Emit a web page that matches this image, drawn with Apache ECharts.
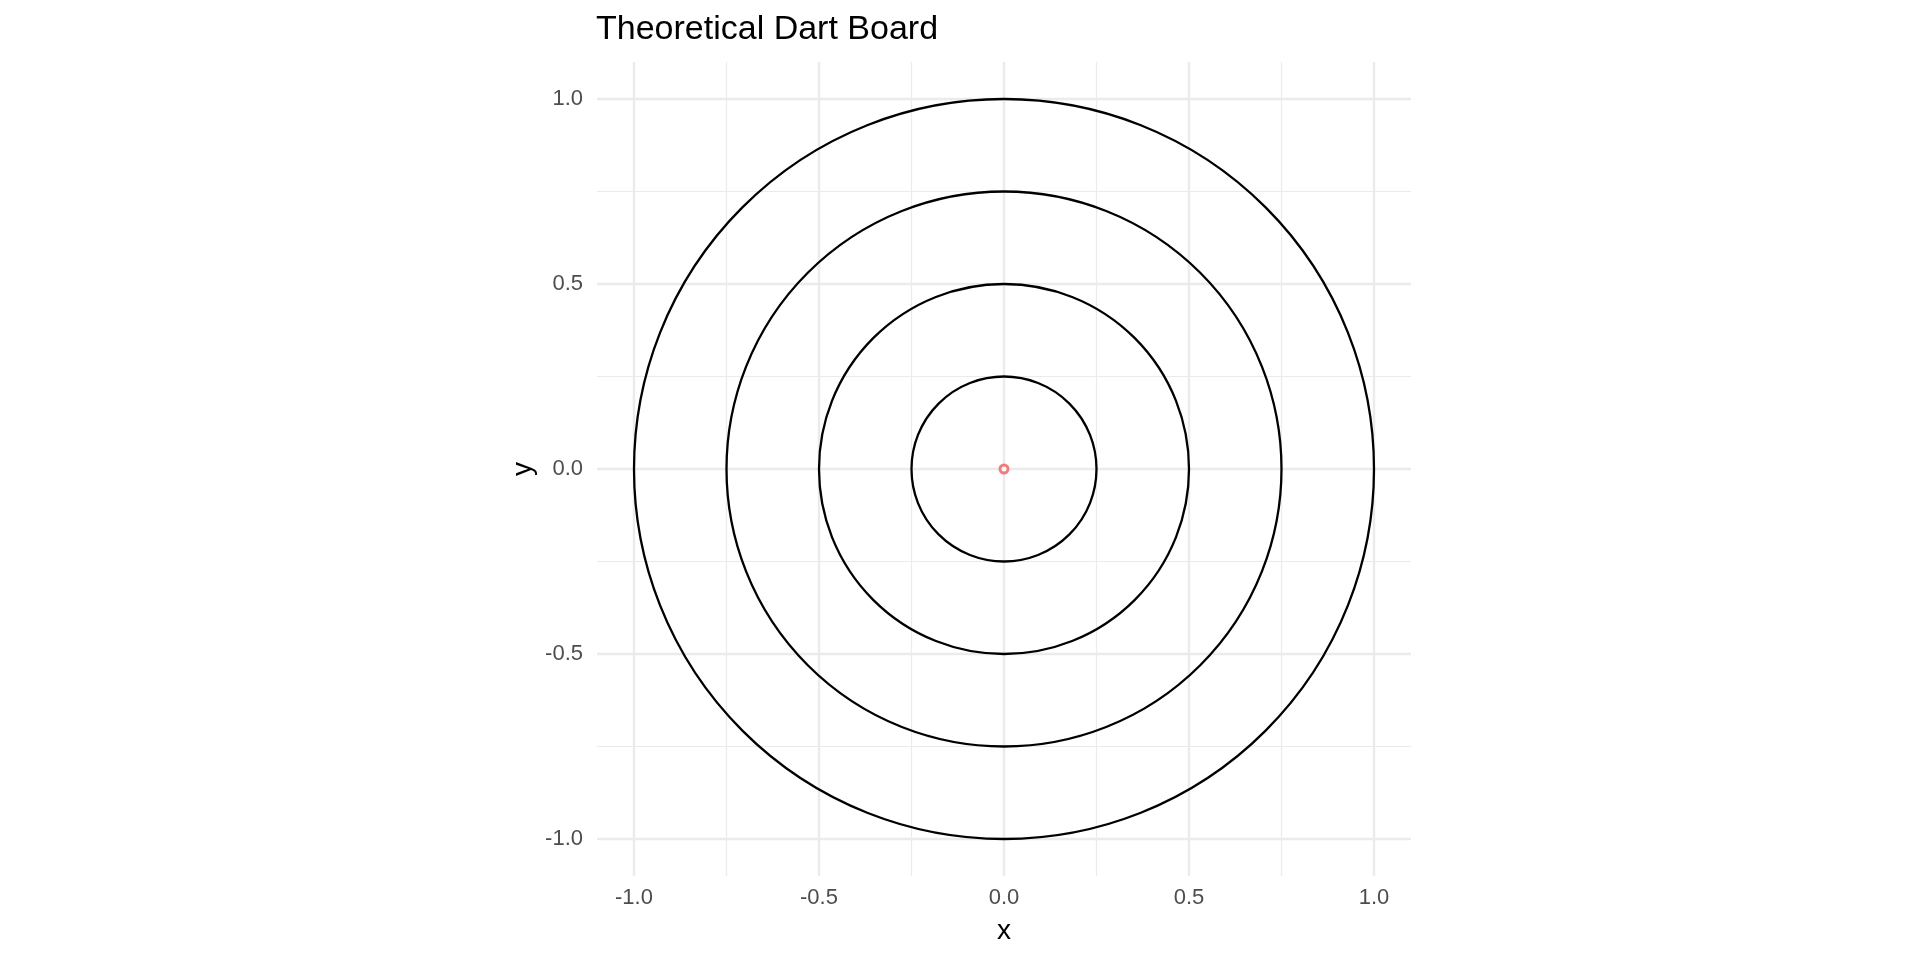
<!DOCTYPE html>
<html>
<head>
<meta charset="utf-8">
<title>Theoretical Dart Board</title>
<script src="https://cdn.jsdelivr.net/npm/echarts@6/dist/echarts.min.js"></script>
<style>
  html, body { margin: 0; padding: 0; background: #fff; }
  #chart { width: 1920px; height: 960px; }
</style>
</head>
<body>
<div id="chart"></div>
<script>
  // board data
  var ringRadii = [0.25, 0.5, 0.75, 1.0];
  var boardCenter = [0, 0];
  var darts = [[0, 0]];

  // axis breaks
  var axisRange = [-1.1, 1.1];
  var majorBreaks = [-1.0, -0.5, 0.0, 0.5, 1.0];
  var minorBreaks = [-0.75, -0.25, 0.25, 0.75];

  var font = 'Liberation Sans, Arial, Helvetica, sans-serif';
  var gridColor = '#ebebeb';

  function tickLabel(margin) {
    return {
      customValues: majorBreaks,
      color: '#4d4d4d',
      fontSize: 22,
      fontFamily: font,
      margin: margin,
      formatter: function (v) { return v.toFixed(1); }
    };
  }

  function majorAxis(name, pos, gap, margin) {
    return {
      type: 'value',
      position: pos,
      min: axisRange[0],
      max: axisRange[1],
      name: name,
      nameLocation: 'middle',
      nameGap: gap,
      nameTextStyle: { color: '#000', fontSize: 28, fontFamily: font },
      axisLine: { show: false },
      axisTick: { show: false, customValues: majorBreaks },
      axisLabel: tickLabel(margin),
      splitLine: { show: true, lineStyle: { color: gridColor, width: 2.4 } }
    };
  }

  function minorAxis(pos) {
    return {
      type: 'value',
      position: pos,
      min: axisRange[0],
      max: axisRange[1],
      axisLine: { show: false },
      axisTick: { show: false, customValues: minorBreaks },
      axisLabel: { show: false, customValues: minorBreaks },
      splitLine: { show: true, lineStyle: { color: gridColor, width: 1.2 } }
    };
  }

  var chart = echarts.init(document.getElementById('chart'));

  var option = {
    backgroundColor: '#fff',
    animation: false,
    title: {
      text: 'Theoretical Dart Board',
      left: 591,
      top: 8,
      textStyle: { color: '#000', fontSize: 34, fontWeight: 'normal', fontFamily: font }
    },
    grid: {
      left: 597,
      right: 509,
      top: 62,
      bottom: 84,
      containLabel: false
    },
    xAxis: [
      majorAxis('x', 'bottom', 41, 11),
      minorAxis('bottom')
    ],
    yAxis: [
      majorAxis('y', 'left', 60, 14),
      minorAxis('left')
    ],
    series: [
      {
        name: 'rings',
        type: 'custom',
        xAxisIndex: 0,
        yAxisIndex: 0,
        clip: false,
        data: ringRadii.map(function (r) { return [boardCenter[0], boardCenter[1], r]; }),
        renderItem: function (params, api) {
          var c = api.coord([api.value(0), api.value(1)]);
          var r = api.size([api.value(2), 0])[0];
          return {
            type: 'circle',
            shape: { cx: c[0], cy: c[1], r: r },
            style: { fill: 'none', stroke: '#000', lineWidth: 2.3 }
          };
        }
      },
      {
        name: 'darts',
        type: 'scatter',
        xAxisIndex: 0,
        yAxisIndex: 0,
        data: darts,
        symbol: 'circle',
        symbolSize: 8,
        itemStyle: { color: '#fff', borderColor: '#f05c5c', borderWidth: 3 }
      }
    ]
  };

  chart.setOption(option);
  window.addEventListener('resize', function () {
    chart.resize();
  });
</script>
</body>
</html>
